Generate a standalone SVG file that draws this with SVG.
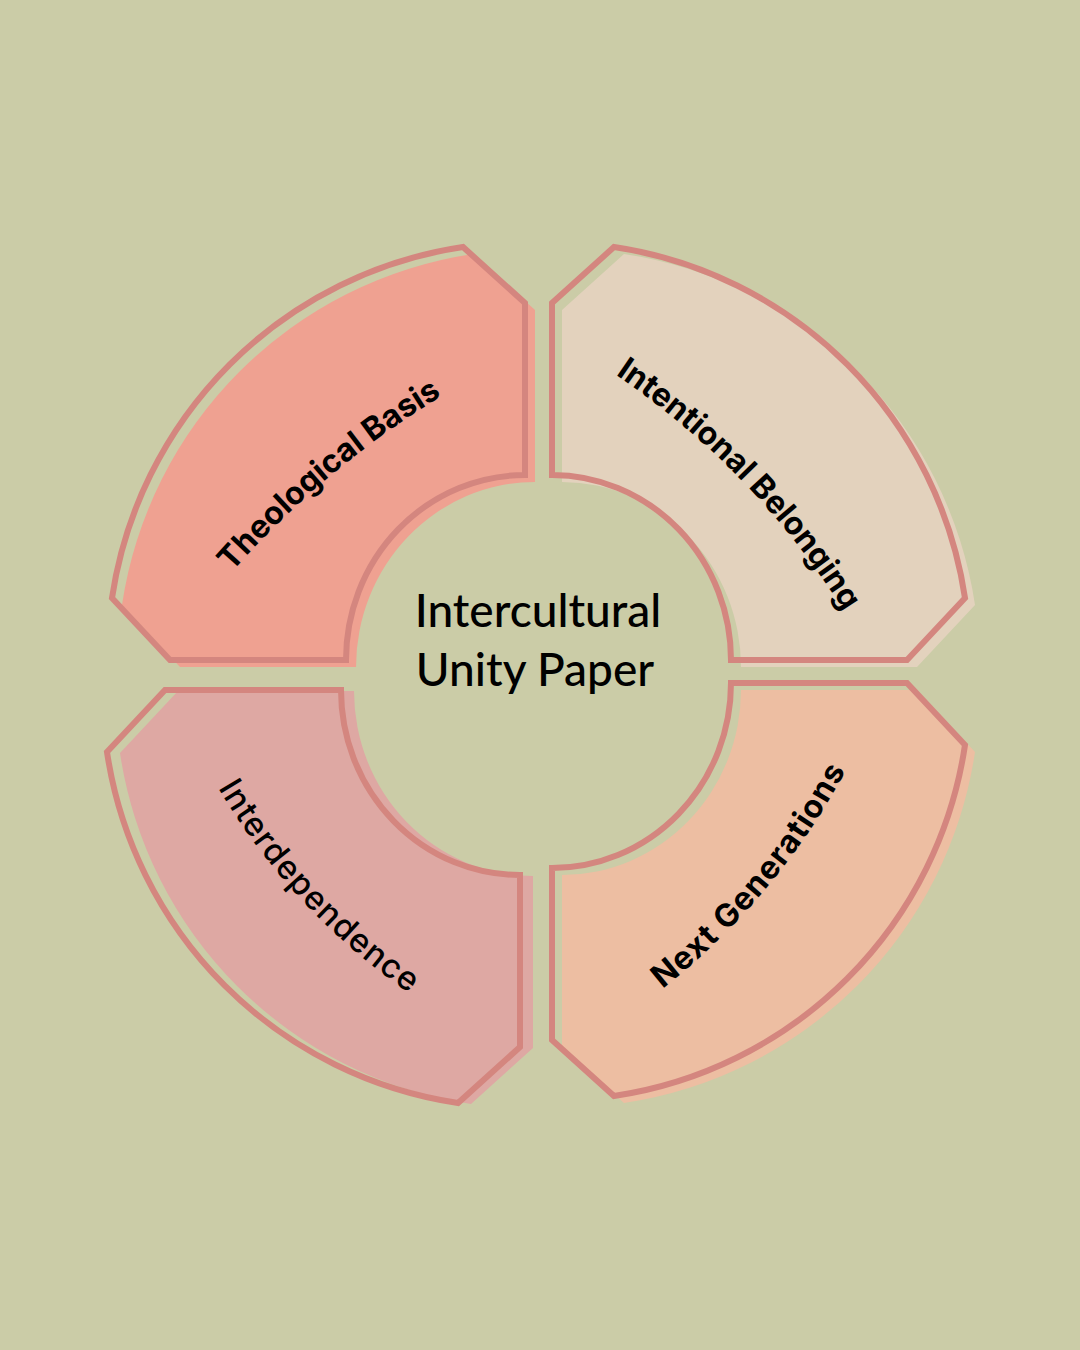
<svg xmlns="http://www.w3.org/2000/svg" width="1080" height="1350" viewBox="0 0 1080 1350">
  <defs>
    <path id="seg" d="M0,-357 L-62,-413 A417,417 0 0 0 -413,-62 L-355,0 L-179,0 A179,185 0 0 1 0,-185 Z"/>
    <path id="tp1" d="M180.6,636.4 A900,900 0 0 1 514.1,356.5"/>
    <path id="tp2" d="M569.6,345.8 A800,800 0 0 1 871.4,658.2"/>
    <path id="tp3" d="M174.6,699.3 A650,650 0 0 0 495.2,1043.1"/>
    <path id="tp4" d="M600.4,1032.5 A700,700 0 0 0 878.5,701.1"/>
  </defs>
  <style>
    .outline { fill: none; stroke: #d4867f; stroke-width: 6; stroke-linejoin: miter; }
    .label { font-family: Inter, "Open Sans", "Liberation Sans", sans-serif; font-weight: 700; font-size: 32px; fill: #000000; }
    .label-light { font-weight: 500; font-size: 33px; letter-spacing: 1px; }
    .title { font-family: Lato, "Noto Sans", "Liberation Sans", sans-serif; font-weight: 500; font-size: 46px; fill: #000000; text-anchor: middle; }
  </style>
  <rect x="0" y="0" width="1080" height="1350" fill="#cbcca7"/>

  <g id="node-theological-basis">
    <use href="#seg" transform="translate(535,667)" fill="#efa191"/>
    <use href="#seg" transform="translate(525,660)" class="outline"/>
    <text class="label"><textPath href="#tp1" startOffset="50%" text-anchor="middle">Theological Basis</textPath></text>
  </g>

  <g id="node-intentional-belonging">
    <use href="#seg" transform="translate(562,667) scale(-1,1)" fill="#e3d2bd"/>
    <use href="#seg" transform="translate(552,660) scale(-1,1)" class="outline"/>
    <text class="label"><textPath href="#tp2" startOffset="50%" text-anchor="middle">Intentional Belonging</textPath></text>
  </g>

  <g id="node-interdependence">
    <use href="#seg" transform="translate(533,691) scale(1,-1)" fill="#dea8a3"/>
    <use href="#seg" transform="translate(520,690) scale(1,-1)" class="outline"/>
    <text class="label label-light"><textPath href="#tp3" startOffset="50%" text-anchor="middle">Interdependence</textPath></text>
  </g>

  <g id="node-next-generations">
    <use href="#seg" transform="translate(562,690) scale(-1,-1)" fill="#edbea2"/>
    <use href="#seg" transform="translate(552,683) scale(-1,-1)" class="outline"/>
    <text class="label" letter-spacing="1"><textPath href="#tp4" startOffset="50%" text-anchor="middle">Next Generations</textPath></text>
  </g>

  <g id="node-center">
    <text class="title" x="538" y="627">Intercultural</text>
    <text class="title" x="535" y="686">Unity Paper</text>
  </g>

  <g id="connectors"></g>
</svg>
